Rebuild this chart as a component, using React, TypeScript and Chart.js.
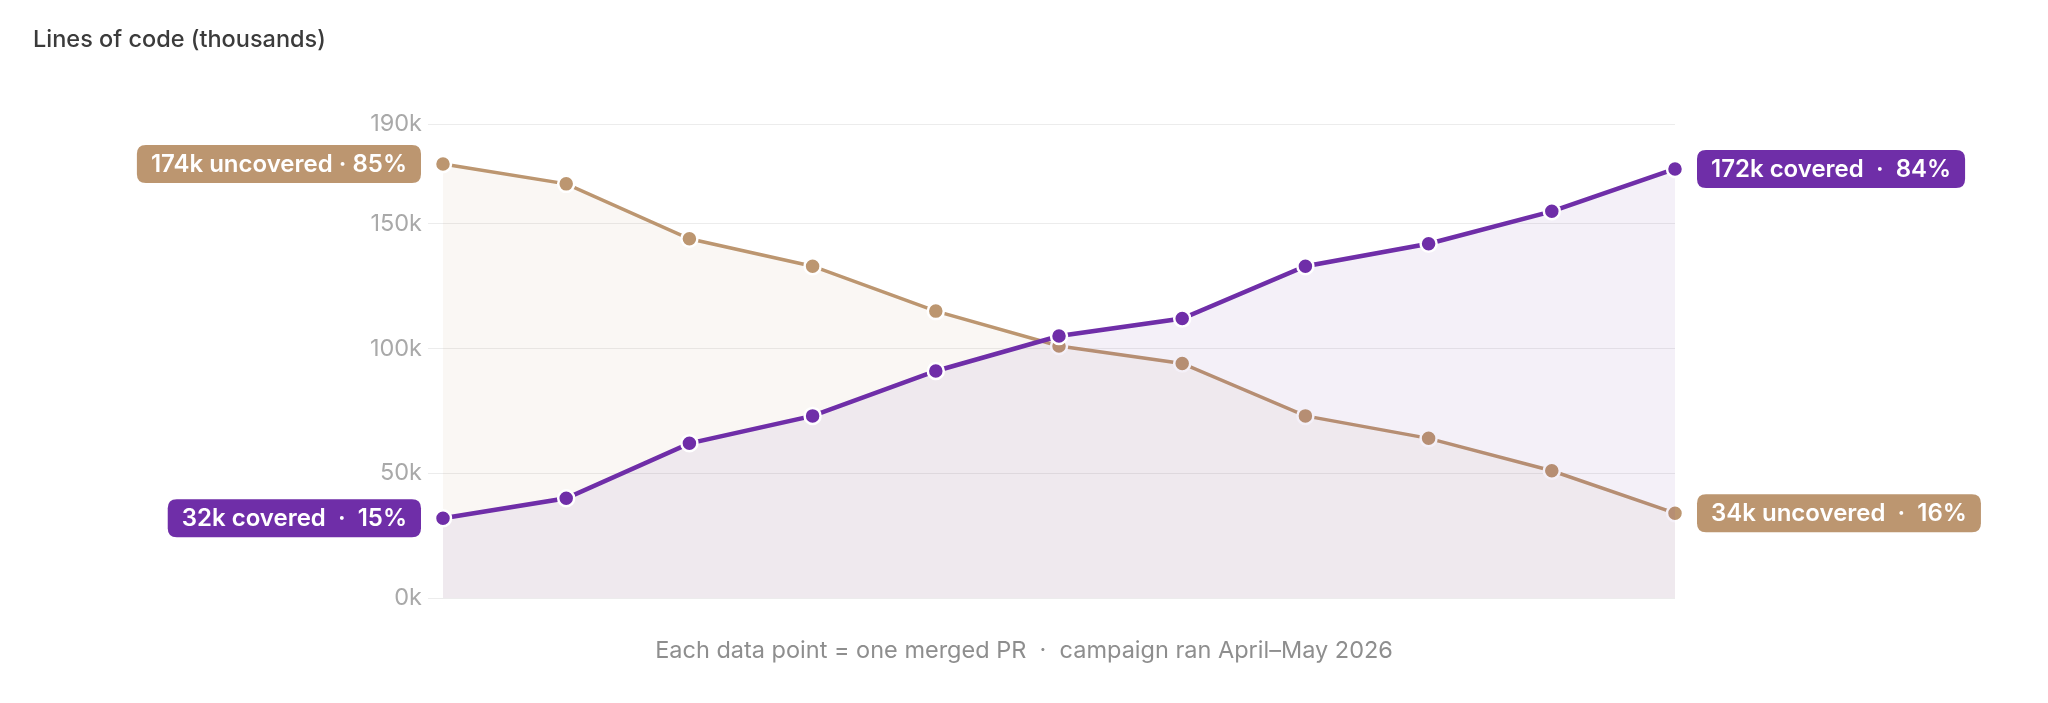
import React, { useEffect, useRef } from "react";
import { Chart, registerables } from "chart.js";

Chart.register(...registerables);

const prLabels = ["PR1", "PR2", "PR3", "PR4", "PR5", "PR6", "PR7", "PR8", "PR9", "PR10", "PR11"];
const coveredK = [32, 40, 62, 73, 91, 105, 112, 133, 142, 155, 172];
const uncoveredK = [174, 166, 144, 133, 115, 101, 94, 73, 64, 51, 34];
const yTickValues = [0, 50, 100, 150, 190];

const titleText = "Lines of code (thousands)";
const footerText = "Each data point = one merged PR  ·  campaign ran April–May 2026";
const coveredStartLabel = "32k covered  ·  15%";
const coveredEndLabel = "172k covered  ·  84%";
const uncoveredStartLabel = "174k uncovered · 85%";
const uncoveredEndLabel = "34k uncovered  ·  16%";

const PURPLE = "#6f2ea8";
const TAN = "#bc9670";
const FONT = "Inter, 'Noto Sans', sans-serif";

function roundRect(ctx: CanvasRenderingContext2D, x: number, y: number, w: number, h: number, r: number) {
  ctx.beginPath();
  ctx.moveTo(x + r, y);
  ctx.lineTo(x + w - r, y);
  ctx.quadraticCurveTo(x + w, y, x + w, y + r);
  ctx.lineTo(x + w, y + h - r);
  ctx.quadraticCurveTo(x + w, y + h, x + w - r, y + h);
  ctx.lineTo(x + r, y + h);
  ctx.quadraticCurveTo(x, y + h, x, y + h - r);
  ctx.lineTo(x, y + r);
  ctx.quadraticCurveTo(x, y, x + r, y);
  ctx.closePath();
}

const annotatePlugin = {
  id: "annotate",
  afterDraw(chart: any) {
    const ctx: CanvasRenderingContext2D = chart.ctx;
    ctx.save();
    // title
    ctx.font = `500 23.5px ${FONT}`;
    ctx.fillStyle = "#3b3b3b";
    ctx.textAlign = "left";
    ctx.textBaseline = "middle";
    ctx.fillText(titleText, 25, 32);
    // footer
    ctx.font = `400 23.5px ${FONT}`;
    ctx.fillStyle = "#8e8e8e";
    ctx.textAlign = "center";
    ctx.fillText(footerText, chart.width / 2, 643);

    const pill = (text: string, color: string, px: number, py: number, side: "left" | "right") => {
      ctx.font = `600 24px ${FONT}`;
      const tw = ctx.measureText(text).width;
      const padX = 14;
      const h = 38;
      const w = tw + padX * 2;
      const gap = 22;
      const x = side === "left" ? px - gap - w : px + gap;
      const y = py - h / 2;
      ctx.fillStyle = color;
      roundRect(ctx, x, y, w, h, 9);
      ctx.fill();
      ctx.fillStyle = "#ffffff";
      ctx.textAlign = "left";
      ctx.textBaseline = "middle";
      ctx.fillText(text, x + padX, py + 1);
    };

    const covMeta = chart.getDatasetMeta(0);
    const uncMeta = chart.getDatasetMeta(1);
    const n = coveredK.length - 1;
    pill(uncoveredStartLabel, TAN, uncMeta.data[0].x, uncMeta.data[0].y, "left");
    pill(coveredStartLabel, PURPLE, covMeta.data[0].x, covMeta.data[0].y, "left");
    pill(coveredEndLabel, PURPLE, covMeta.data[n].x, covMeta.data[n].y, "right");
    pill(uncoveredEndLabel, TAN, uncMeta.data[n].x, uncMeta.data[n].y, "right");
    ctx.restore();
  },
};

export default function App() {
  const ref = useRef<HTMLCanvasElement | null>(null);
  useEffect(() => {
    if (!ref.current) return;
    const chart = new Chart(ref.current, {
      type: "line",
      data: {
        labels: prLabels,
        datasets: [
          {
            label: "Covered",
            data: coveredK,
            borderColor: PURPLE,
            backgroundColor: "rgba(112,48,160,0.075)",
            borderWidth: 4.5,
            fill: "origin",
            pointRadius: 8,
            pointBackgroundColor: PURPLE,
            pointBorderColor: "#ffffff",
            pointBorderWidth: 2.5,
            tension: 0,
          },
          {
            label: "Uncovered",
            data: uncoveredK,
            borderColor: TAN,
            backgroundColor: "rgba(187,148,112,0.08)",
            borderWidth: 3.5,
            fill: "origin",
            pointRadius: 8,
            pointBackgroundColor: TAN,
            pointBorderColor: "#ffffff",
            pointBorderWidth: 2.5,
            tension: 0,
          },
        ],
      },
      options: {
        animation: false,
        responsive: false,
        maintainAspectRatio: false,
        layout: { padding: { left: 0, right: 365, top: 116, bottom: 97 } },
        plugins: {
          legend: { display: false },
          tooltip: { enabled: false },
        },
        scales: {
          x: { display: false, offset: false },
          y: {
            min: 0,
            max: 190,
            afterFit: (scale: any) => {
              scale.width = 435;
            },
            afterBuildTicks: (scale: any) => {
              scale.ticks = yTickValues.map((v) => ({ value: v }));
            },
            border: { display: false },
            grid: { color: "#ececec", lineWidth: 1, drawTicks: true, tickLength: 15, tickColor: "#ececec" },
            ticks: {
              padding: 6,
              color: "#a9a9a9",
              font: { family: FONT, size: 23.5 },
              callback: (v: any) => `${v}k`,
            },
          },
        },
      },
      plugins: [annotatePlugin],
    });
    return () => chart.destroy();
  }, []);
  return <canvas ref={ref} width={2032} height={687} style={{ display: "block" }} />;
}
